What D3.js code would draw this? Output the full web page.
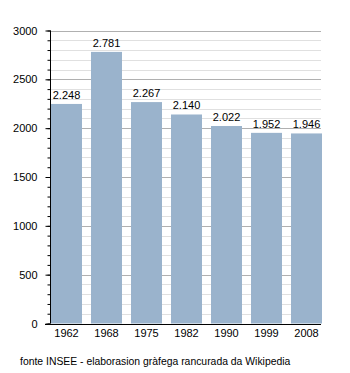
<!DOCTYPE html>
<html>
<head>
<meta charset="utf-8">
<script src="https://cdn.jsdelivr.net/npm/d3@7"></script>
<style>
  html, body { margin: 0; padding: 0; background: #fff; }
  svg text { font-family: "Liberation Sans", Arial, sans-serif; fill: #000; }
</style>
</head>
<body>
<svg id="chart" width="350" height="373"></svg>
<script>
// Population by census year
const years = ["1962", "1968", "1975", "1982", "1990", "1999", "2008"];
const population = [2248, 2781, 2267, 2140, 2022, 1952, 1946];
const majorTicks = [0, 500, 1000, 1500, 2000, 2500, 3000];
const minorTicks = d3.range(0, 3001, 100);
const source = "fonte INSEE - elaborasion gràfega rancurada da Wikipedia";

const svg = d3.select("#chart");
const plotLeft = 50, plotRight = 321, plotTop = 30.5, plotBottom = 323.5;

const x = d3.scaleBand()
  .domain(years)
  .range([51, 331])
  .paddingInner(0.225)
  .paddingOuter(0.1125)
  .align(0);

const y = d3.scaleLinear().domain([0, 3000]).range([plotBottom, plotTop]);

const fmt = v => d3.format(",")(v).replace(/,/g, ".");

// Grid lines
svg.append("g")
  .selectAll("line")
  .data(minorTicks.filter(v => v % 500 !== 0))
  .join("line")
  .attr("x1", plotLeft).attr("x2", plotRight)
  .attr("y1", d => Math.round(y(d)) + 0.5).attr("y2", d => Math.round(y(d)) + 0.5)
  .attr("stroke", "#e0e0e0");

svg.append("g")
  .selectAll("line")
  .data(majorTicks.filter(v => v > 0))
  .join("line")
  .attr("x1", plotLeft).attr("x2", plotRight)
  .attr("y1", d => Math.round(y(d)) + 0.5).attr("y2", d => Math.round(y(d)) + 0.5)
  .attr("stroke", "#b0b0b0");

// Bars
svg.append("g")
  .selectAll("rect")
  .data(years.map((yr, i) => ({ yr, v: population[i] })))
  .join("rect")
  .attr("x", d => x(d.yr))
  .attr("width", x.bandwidth())
  .attr("y", d => y(d.v))
  .attr("height", d => y(0) - y(d.v))
  .attr("fill", "#9ab3cc");

// Value labels
svg.append("g")
  .selectAll("text")
  .data(years.map((yr, i) => ({ yr, v: population[i] })))
  .join("text")
  .attr("x", d => x(d.yr) + x.bandwidth() / 2)
  .attr("y", d => y(d.v) - 5)
  .attr("text-anchor", "middle")
  .attr("font-size", 11)
  .text(d => fmt(d.v));

// Y axis with minor ticks
const yMinor = d3.axisLeft(y).tickValues(minorTicks).tickSize(3).tickFormat("");
const gMinor = svg.append("g").attr("transform", `translate(${plotLeft + 0.5},0)`).call(yMinor);
gMinor.select(".domain").remove();
gMinor.selectAll(".tick line").attr("stroke", "#000");

const yAxis = d3.axisLeft(y).tickValues(majorTicks).tickSize(5).tickPadding(8).tickFormat(d => d);
const gY = svg.append("g").attr("transform", `translate(${plotLeft + 0.5},0)`).call(yAxis);
gY.select(".domain").attr("d", `M0,${plotTop}V${plotBottom}`).attr("stroke", "#000");
gY.selectAll(".tick line").attr("stroke", "#000");
gY.selectAll(".tick text").attr("font-size", 11).attr("font-family", "Liberation Sans, Arial, sans-serif");

// X axis
const xAxis = d3.axisBottom(x).tickSize(0).tickPadding(5);
const gX = svg.append("g").attr("transform", `translate(0,${Math.round(plotBottom) + 0.5})`).call(xAxis);
gX.select(".domain").attr("d", `M45,0H${plotRight}`).attr("stroke", "#000").attr("stroke-width", 1.2);
gX.selectAll(".tick text").attr("font-size", 11).attr("font-family", "Liberation Sans, Arial, sans-serif");

// Source note
svg.append("text")
  .attr("x", 20)
  .attr("y", 365)
  .attr("font-size", 10.4)
  .text(source);
</script>
</body>
</html>
